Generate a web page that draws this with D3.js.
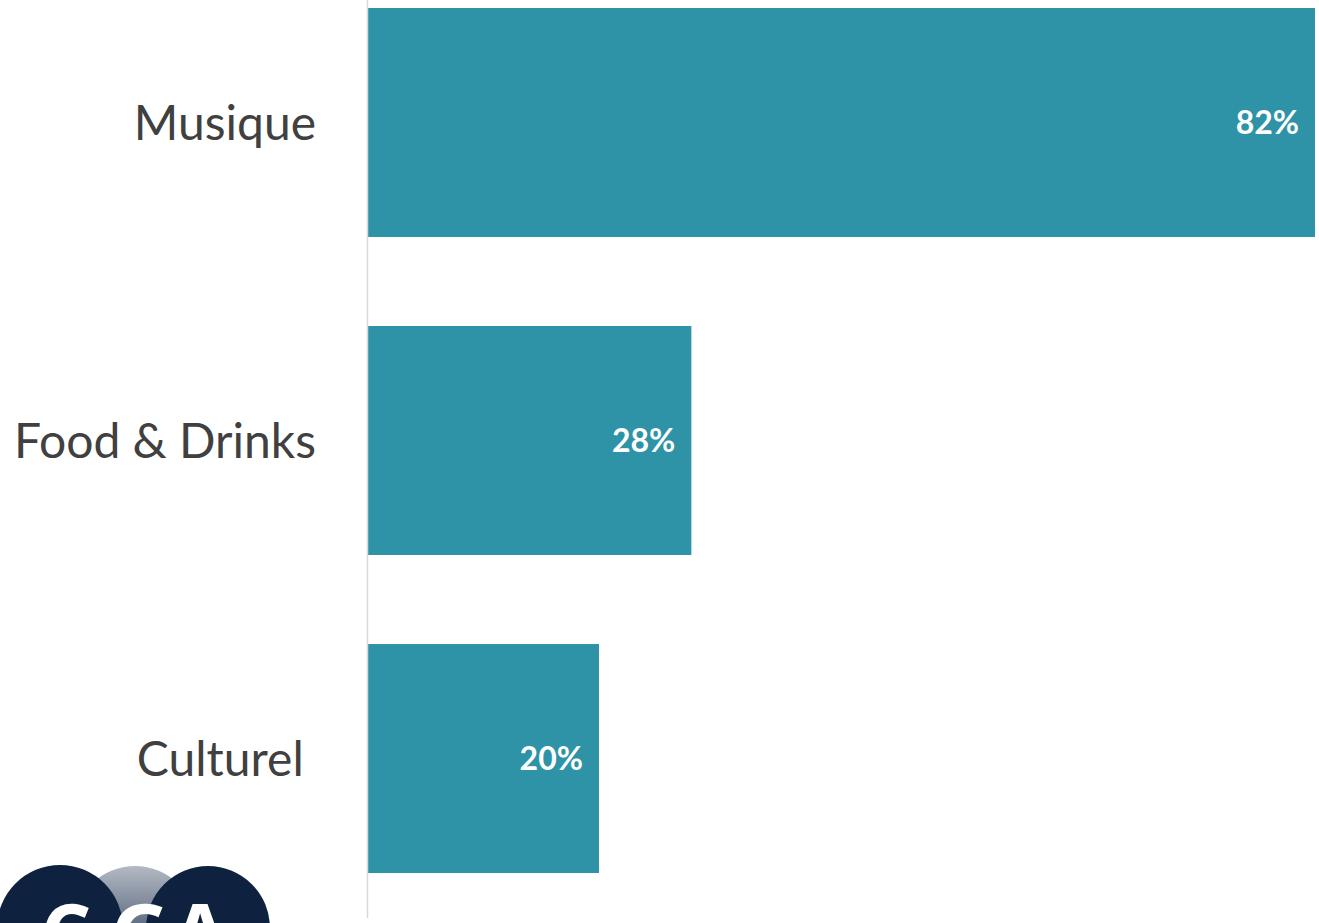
<!DOCTYPE html>
<html>
<head>
<meta charset="utf-8">
<script src="https://cdn.jsdelivr.net/npm/d3@7"></script>
<style>
  html, body { margin: 0; padding: 0; background: #fff; overflow: hidden; }
  text { white-space: pre; }
</style>
</head>
<body>
<div class="chart"></div>
<script>
// data
const categories = ['Musique', 'Food & Drinks', 'Culturel '];
const values = [0.82, 0.28, 0.20];
const valueLabels = ['82%', '28%', '20%'];
const logoLetters = ['C', 'G', 'A'];

const W = 1319, H = 923;
const axisX = 367.5;

const svg = d3.select('.chart')
  .append('svg')
  .attr('width', W)
  .attr('height', H);

const xScale = d3.scaleLinear()
  .domain([0, 0.82])
  .range([368, 1315]);

const yScale = d3.scaleBand()
  .domain(categories)
  .range([8, 873])
  .paddingInner(0.28)
  .paddingOuter(0);

const data = categories.map((c, i) => ({ cat: c, v: values[i], label: valueLabels[i] }));

// bars
svg.selectAll('rect.bar')
  .data(data)
  .enter().append('rect')
  .attr('class', 'bar')
  .attr('x', xScale(0))
  .attr('y', d => yScale(d.cat))
  .attr('width', d => xScale(d.v) - xScale(0))
  .attr('height', yScale.bandwidth())
  .style('fill', '#2E93A7');

// vertical axis line
svg.append('line')
  .attr('x1', axisX).attr('x2', axisX)
  .attr('y1', 0).attr('y2', 918)
  .style('stroke', '#d9d9d9')
  .style('stroke-width', 1.5);

// category labels
svg.selectAll('text.cat')
  .data(data)
  .enter().append('text')
  .attr('class', 'cat')
  .attr('x', 316)
  .attr('y', d => yScale(d.cat) + yScale.bandwidth() / 2)
  .attr('dy', '0.36em')
  .attr('text-anchor', 'end')
  .style('font-family', 'Lato, "Open Sans", sans-serif')
  .style('font-size', '48px')
  .style('fill', '#404040')
  .text(d => d.cat);

// value labels
svg.selectAll('text.val')
  .data(data)
  .enter().append('text')
  .attr('class', 'val')
  .attr('x', d => xScale(d.v) - 16)
  .attr('y', d => yScale(d.cat) + yScale.bandwidth() / 2)
  .attr('dy', '0.36em')
  .attr('text-anchor', 'end')
  .style('font-family', 'Lato, "Open Sans", sans-serif')
  .style('font-weight', 'bold')
  .style('font-size', '32px')
  .style('fill', '#ffffff')
  .text(d => d.label);

// logo (partly cut by the bottom edge, as in the source)
const logo = svg.append('g');
const defs = svg.append('defs');
const grad = defs.append('linearGradient')
  .attr('id', 'greyGrad')
  .attr('x1', 0).attr('y1', 0).attr('x2', 0).attr('y2', 1);
grad.append('stop').attr('offset', '0%').attr('stop-color', '#b4bac4');
grad.append('stop').attr('offset', '60%').attr('stop-color', '#4a5a72');
grad.append('stop').attr('offset', '100%').attr('stop-color', '#1a2c48');

logo.append('circle').attr('cx', 135).attr('cy', 928).attr('r', 62).style('fill', 'url(#greyGrad)');
logo.append('circle').attr('cx', 60).attr('cy', 928).attr('r', 63).style('fill', '#0E2240');
logo.append('circle').attr('cx', 208).attr('cy', 928).attr('r', 62).style('fill', '#0E2240');

logo.selectAll('text')
  .data(logoLetters)
  .enter().append('text')
  .attr('x', (d, i) => [66, 140, 200][i])
  .attr('y', 962)
  .attr('text-anchor', 'middle')
  .style('font-family', '"Open Sans", sans-serif')
  .style('font-weight', 'bold')
  .style('font-size', '80px')
  .style('fill', '#ffffff')
  .text(d => d);
</script>
</body>
</html>
